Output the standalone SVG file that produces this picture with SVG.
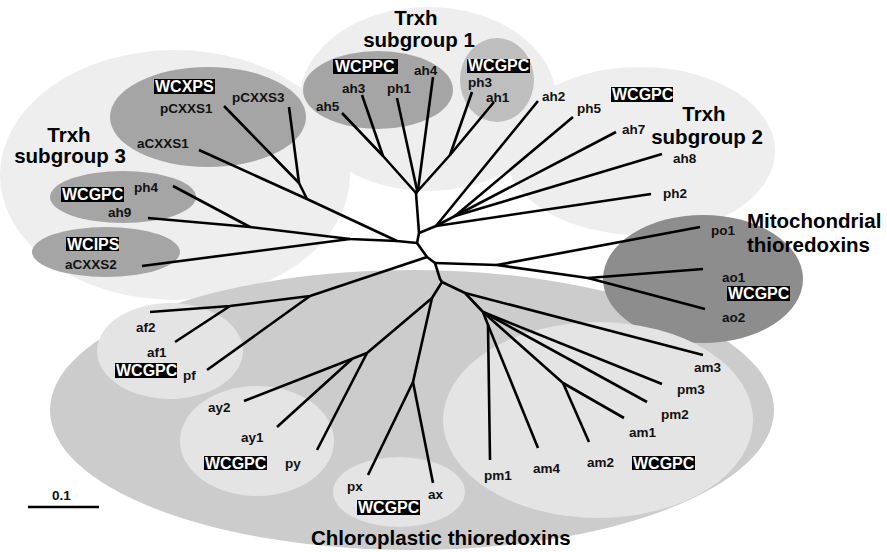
<svg xmlns="http://www.w3.org/2000/svg" width="887" height="552" viewBox="0 0 887 552">
<style>
.lt{fill:#eeeeee}
.cp{fill:#cccccc}
.ci{fill:#e4e4e4}
.dk{fill:#a5a5a5}
.md{fill:#bebebe}
.mt{fill:#8d8d8d}
.br{fill:none;stroke:#000;stroke-width:2.6;stroke-linejoin:round;stroke-linecap:butt}
.lb{font-family:"Liberation Sans",Arial,Helvetica,sans-serif;font-weight:bold;font-size:13.5px;fill:#111}
.hd{font-family:"Liberation Sans",Arial,Helvetica,sans-serif;font-weight:bold;font-size:20.5px;fill:#000}
.bx rect{fill:#000}
.bx text{font-family:"Liberation Sans",Arial,Helvetica,sans-serif;font-weight:bold;font-size:16px;fill:#fff}
</style>
<rect width="887" height="552" fill="#fff"/>

<!-- cluster backgrounds -->
<g id="sg3"><ellipse class="lt" cx="175" cy="175" rx="175" ry="125"/></g>
<g id="sg1"><ellipse class="lt" cx="428" cy="99" rx="128" ry="92"/></g>
<g id="sg2"><ellipse class="lt" cx="640" cy="151" rx="135" ry="84"/></g>
<g id="chloro"><ellipse class="cp" cx="412" cy="410" rx="362" ry="140"/></g>
<g id="mito"><ellipse class="mt" cx="703" cy="279" rx="100" ry="64"/></g>
<g id="sg3-wcxps"><ellipse class="dk" cx="208" cy="117" rx="98" ry="50"/></g>
<g id="sg3-wcgpc"><ellipse class="dk" cx="123" cy="197" rx="73" ry="26"/></g>
<g id="sg3-wcips"><ellipse class="dk" cx="106" cy="252" rx="74" ry="25"/></g>
<g id="sg1-wcppc"><ellipse class="dk" cx="378" cy="90" rx="75" ry="39"/></g>
<g id="sg1-wcgpc"><ellipse class="md" cx="497" cy="80" rx="37" ry="42"/></g>
<g id="cp-f"><ellipse class="ci" cx="170" cy="351" rx="73" ry="48"/></g>
<g id="cp-y"><ellipse class="ci" cx="257" cy="441" rx="77" ry="55"/></g>
<g id="cp-x"><ellipse class="ci" cx="399" cy="492" rx="66" ry="35"/></g>
<g id="cp-m"><ellipse class="ci" cx="598" cy="420" rx="155" ry="98"/></g>

<!-- connectors -->
<g id="connectors" class="br">
<path d="M199,150 L307,199 L397,241 L417,243"/>
<path d="M224,106 L299,183 L307,199"/>
<path d="M289,107 L299,183"/>
<path d="M173,186 L250,227"/>
<path d="M148,218 L250,227 L350,239 L397,241"/>
<path d="M142,266 L350,239"/>
<path d="M417,243 L419,233 L416,193"/>
<path d="M342,113 L383,156 L416,193"/>
<path d="M362,95 L383,156"/>
<path d="M397,98 L417,190 L416,193"/>
<path d="M433,77 L418,190 L416,193"/>
<path d="M494,102 L450,155 L416,193"/>
<path d="M472,92 L450,155"/>
<path d="M419,233 L436,226 L538,101"/>
<path d="M436,226 L455,216 L573,117"/>
<path d="M455,216 L616,132"/>
<path d="M455,216 L662,154"/>
<path d="M436,226 L651,194"/>
<path d="M417,243 L427,257 L435,263 L440,279 L442,282"/>
<path d="M427,257 L310,296 L230,306 L150,312"/>
<path d="M230,306 L175,342"/>
<path d="M310,296 L207,370"/>
<path d="M435,263 L497,265 L588,278 L703,269"/>
<path d="M588,278 L705,309"/>
<path d="M497,265 L700,227"/>
<path d="M442,282 L465,293 L483,312"/>
<path d="M465,293 L703,355"/>
<path d="M483,312 L662,384"/>
<path d="M483,312 L647,402"/>
<path d="M483,312 L563,383 L624,418"/>
<path d="M563,383 L589,442"/>
<path d="M483,312 L488,325 L490,460"/>
<path d="M488,325 L538,448"/>
<path d="M442,282 L432,298 L367,353 L244,401"/>
<path d="M352,359 L277,427"/>
<path d="M367,353 L317,450"/>
<path d="M432,298 L413,382 L368,475"/>
<path d="M413,382 L433,483"/>
<path d="M28,507 L99,507"/>
</g>

<!-- headings -->
<g id="h-sg3"><text class="hd" x="69" y="142" text-anchor="middle">Trxh</text><text class="hd" x="70" y="163" text-anchor="middle">subgroup 3</text></g>
<g id="h-sg1"><text class="hd" x="416" y="25" text-anchor="middle">Trxh</text><text class="hd" x="419" y="47" text-anchor="middle">subgroup 1</text></g>
<g id="h-sg2"><text class="hd" x="704" y="121" text-anchor="middle">Trxh</text><text class="hd" x="707" y="144" text-anchor="middle">subgroup 2</text></g>
<g id="h-mito"><text class="hd" x="747" y="228">Mitochondrial</text><text class="hd" x="747" y="252">thioredoxins</text></g>
<g id="h-chloro"><text class="hd" x="311" y="545">Chloroplastic thioredoxins</text></g>

<!-- motif boxes -->
<g id="m1" class="bx"><rect x="154" y="79" width="61" height="15"/><text x="155" y="92">WCXPS</text></g>
<g id="m2" class="bx"><rect x="333" y="59" width="65" height="15"/><text x="335" y="72">WCPPC</text></g>
<g id="m3" class="bx"><rect x="467" y="59" width="63" height="14"/><text x="468" y="71">WCGPC</text></g>
<g id="m4" class="bx"><rect x="611" y="87" width="62" height="15"/><text x="612" y="100">WCGPC</text></g>
<g id="m5" class="bx"><rect x="61" y="187" width="63" height="15"/><text x="62" y="200">WCGPC</text></g>
<g id="m6" class="bx"><rect x="66" y="237" width="53" height="14"/><text x="67" y="250">WCIPS</text></g>
<g id="m7" class="bx"><rect x="115" y="363" width="62" height="15"/><text x="116" y="376">WCGPC</text></g>
<g id="m8" class="bx"><rect x="204" y="456" width="63" height="14"/><text x="205" y="469">WCGPC</text></g>
<g id="m9" class="bx"><rect x="357" y="500" width="63" height="15"/><text x="358" y="513">WCGPC</text></g>
<g id="m10" class="bx"><rect x="632" y="456" width="63" height="14"/><text x="633" y="469">WCGPC</text></g>
<g id="m11" class="bx"><rect x="727" y="286" width="63" height="15"/><text x="728" y="299">WCGPC</text></g>

<!-- leaf labels -->
<g id="n-pCXXS1"><text class="lb" x="160" y="113">pCXXS1</text></g>
<g id="n-pCXXS3"><text class="lb" x="232" y="102">pCXXS3</text></g>
<g id="n-aCXXS1"><text class="lb" x="137" y="148">aCXXS1</text></g>
<g id="n-ph4"><text class="lb" x="134" y="192">ph4</text></g>
<g id="n-ah9"><text class="lb" x="108" y="217">ah9</text></g>
<g id="n-aCXXS2"><text class="lb" x="65" y="269">aCXXS2</text></g>
<g id="n-ah5"><text class="lb" x="316" y="111">ah5</text></g>
<g id="n-ah3"><text class="lb" x="342" y="93">ah3</text></g>
<g id="n-ph1"><text class="lb" x="387" y="93">ph1</text></g>
<g id="n-ah4"><text class="lb" x="414" y="75">ah4</text></g>
<g id="n-ph3"><text class="lb" x="468" y="87">ph3</text></g>
<g id="n-ah1"><text class="lb" x="486" y="102">ah1</text></g>
<g id="n-ah2"><text class="lb" x="542" y="101">ah2</text></g>
<g id="n-ph5"><text class="lb" x="577" y="113">ph5</text></g>
<g id="n-ah7"><text class="lb" x="622" y="134">ah7</text></g>
<g id="n-ah8"><text class="lb" x="673" y="163">ah8</text></g>
<g id="n-ph2"><text class="lb" x="663" y="198">ph2</text></g>
<g id="n-po1"><text class="lb" x="711" y="235">po1</text></g>
<g id="n-ao1"><text class="lb" x="722" y="282">ao1</text></g>
<g id="n-ao2"><text class="lb" x="722" y="322">ao2</text></g>
<g id="n-am3"><text class="lb" x="694" y="372">am3</text></g>
<g id="n-pm3"><text class="lb" x="677" y="394">pm3</text></g>
<g id="n-pm2"><text class="lb" x="661" y="419">pm2</text></g>
<g id="n-am1"><text class="lb" x="629" y="437">am1</text></g>
<g id="n-am2"><text class="lb" x="587" y="467">am2</text></g>
<g id="n-am4"><text class="lb" x="533" y="473">am4</text></g>
<g id="n-pm1"><text class="lb" x="484" y="480">pm1</text></g>
<g id="n-ax"><text class="lb" x="428" y="499">ax</text></g>
<g id="n-px"><text class="lb" x="347" y="491">px</text></g>
<g id="n-py"><text class="lb" x="285" y="468">py</text></g>
<g id="n-ay1"><text class="lb" x="241" y="442">ay1</text></g>
<g id="n-ay2"><text class="lb" x="208" y="412">ay2</text></g>
<g id="n-pf"><text class="lb" x="183" y="380">pf</text></g>
<g id="n-af1"><text class="lb" x="147" y="357">af1</text></g>
<g id="n-af2"><text class="lb" x="136" y="332">af2</text></g>
<g id="scale"><text class="lb" x="52" y="500">0.1</text></g>
</svg>
